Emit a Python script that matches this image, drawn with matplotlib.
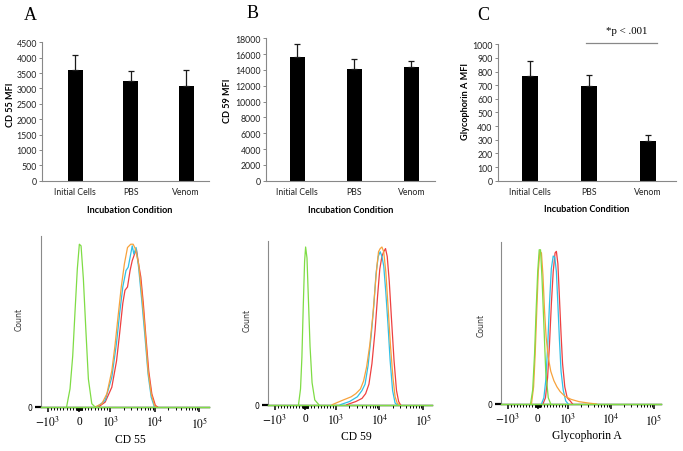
import numpy as np
import matplotlib
matplotlib.use("Agg")
import matplotlib.pyplot as plt

plt.rcParams['mathtext.fontset'] = 'stix'

# ---- bar chart data (MFI, mean + upper SD) ----
conditions = ["Initial Cells", "PBS", "Venom"]
cd55_mfi = [3610, 3250, 3085]
cd55_err = [470, 320, 510]
cd59_mfi = [15680, 14160, 14340]
cd59_err = [1560, 1230, 830]
gpa_mfi = [770, 692, 289]
gpa_err = [105, 83, 44]
sig_label = "*p < .001"

# ---- histogram traces: [fluorescence, % of max] ----
cd55_green = [[-400, 0], [-290, 11], [-203, 31], [-129, 58], [-55, 84], [10, 99], [65, 98],
              [139, 78], [216, 48], [300, 17], [409, 2], [516, 0]]
cd55_orange = [[516, 0], [732, 2], [893, 8], [1087, 22], [1277, 37], [1502, 55], [1774, 73],
               [2084, 87], [2449, 97], [2895, 99], [3289, 99], [3698, 96], [4345, 87],
               [5112, 69], [6039, 47], [7096, 22], [8340, 8], [9860, 1], [10660, 0]]
cd55_blue = [[570, 0], [839, 4], [1087, 18], [1388, 39], [1633, 57], [1919, 73], [2266, 83],
             [2537, 85], [2797, 91], [3127, 98], [3397, 93], [3809, 97], [4345, 85],
             [5112, 65], [6039, 43], [7096, 20], [8340, 6], [9860, 0]]
cd55_red = [[623, 0], [839, 3], [1087, 12], [1388, 28], [1633, 45], [1919, 63], [2150, 71],
            [2449, 73], [2797, 83], [3127, 89], [3526, 93], [3880, 96], [4345, 87], [4880, 79],
            [5550, 63], [6330, 43], [7340, 22], [8620, 8], [10350, 1], [11630, 0]]

cd59_green = [[-222, 0], [-156, 10], [-111, 30], [-67, 62], [-22, 91], [11, 100], [56, 93],
              [100, 68], [156, 37], [222, 14], [311, 3], [444, 0]]
cd59_orange = [[880, 0], [1000, 1], [1484, 3], [2245, 5], [2870, 7], [3670, 10], [4320, 15],
               [5080, 24], [6010, 38], [7070, 57], [7930, 74], [8760, 88], [9520, 97],
               [10390, 99], [11380, 100], [12520, 97], [14010, 84], [15670, 63], [17820, 38],
               [20400, 17], [22830, 5], [25530, 1], [28530, 0]]
cd59_blue = [[1260, 0], [2060, 2], [3110, 5], [3980, 9], [4680, 13], [5500, 25], [6470, 44],
             [7430, 63], [8330, 83], [9380, 94], [10390, 97], [11380, 94], [12520, 88],
             [14010, 71], [15670, 51], [17560, 28], [20000, 9], [22830, 1], [25530, 0]]
cd59_red = [[1780, 0], [2870, 2], [3980, 4], [4820, 7], [5740, 13], [6720, 26], [7930, 47],
            [9060, 69], [10170, 86], [11380, 94], [12520, 97], [13770, 99], [15060, 94],
            [16790, 78], [18800, 55], [21580, 28], [24570, 9], [27530, 2], [30250, 0]]

gpa_green = [[-238, 0], [-167, 9], [-105, 32], [-53, 60], [0, 85], [50, 99], [93, 99],
             [142, 81], [204, 51], [266, 21], [350, 4], [433, 0]]
gpa_orange = [[-207, 0], [-136, 11], [-84, 32], [-31, 60], [19, 85], [71, 98], [124, 97],
              [173, 83], [226, 60], [279, 43], [350, 30], [433, 21], [536, 15], [638, 11],
              [743, 8], [898, 5], [1184, 3], [1820, 1.5], [3035, 0.6], [4640, 0]]
gpa_blue = [[124, 0], [204, 4], [266, 15], [328, 36], [390, 64], [452, 87], [514, 95],
            [567, 94], [619, 85], [669, 64], [721, 41], [774, 21], [845, 9], [929, 2], [1015, 0]]
gpa_red = [[173, 0], [257, 4], [328, 17], [390, 38], [452, 64], [514, 85], [576, 97],
           [619, 98], [669, 90], [721, 68], [774, 45], [824, 26], [898, 11], [978, 4],
           [1130, 2], [1290, 0]]

hist_ticks = [-1000, 0, 1000, 10000, 100000]
hist_ticklabels = [r"$-10^3$", "0", r"$10^3$", r"$10^4$", r"$10^5$"]

GREEN = "#7fdc45"
ORANGE = "#f7a23c"
BLUE = "#2fc0e6"
RED = "#ee4040"

W, H = 683, 452
fig = plt.figure(figsize=(W / 100, H / 100), dpi=100)


def px_axes(left, top, right, bottom):
    return fig.add_axes([left / W, 1 - bottom / H, (right - left) / W, (bottom - top) / H])


SANS = "Lato"
SERIF = "Liberation Serif"


def bar_panel(ax, values, errs, ymax, ystep, ylabel, xlim, ylab_x, ylab_y, xlab_x):
    x = np.arange(len(conditions))
    ax.bar(x, values, width=0.27, color="black", zorder=2)
    ax.errorbar(x, values, yerr=[np.zeros(len(errs)), errs], fmt="none", ecolor="#1a1a1a",
                elinewidth=0.9, capsize=2, capthick=0.9, zorder=3)
    ax.set_xlim(*xlim)
    ax.set_ylim(0, ymax)
    ax.set_yticks(np.arange(0, ymax + ystep, ystep))
    ax.set_xticks(x)
    ax.set_xticklabels(conditions, fontfamily=SANS, fontsize=6.3, color="#222222")
    for lab in ax.get_yticklabels():
        lab.set_fontfamily(SANS)
        lab.set_fontsize(6.3)
        lab.set_color("#222222")
    ax.tick_params(axis="x", length=0, pad=4.5)
    ax.tick_params(axis="y", length=2.2, width=0.7, color="#888888", pad=1.5)
    for s in ["top", "right"]:
        ax.spines[s].set_visible(False)
    for s in ["left", "bottom"]:
        ax.spines[s].set_color("#888888")
        ax.spines[s].set_linewidth(0.8)
    ax.set_ylabel(ylabel, fontfamily=SANS, fontweight="bold", fontsize=6.6, va="center")
    ax.yaxis.set_label_coords(ylab_x, ylab_y)
    ax.set_xlabel("Incubation Condition", fontfamily=SANS, fontweight="bold", fontsize=6.6,
                  va="center")
    ax.xaxis.set_label_coords(xlab_x, -0.205)


def hist_panel(ax, curves, xlim, xlabel, xlab_x, count_x, count_y):
    for pts, col in curves:
        arr = np.array(pts, dtype=float)
        ax.plot(arr[:, 0], arr[:, 1], color=col, lw=0.9, clip_on=False, zorder=3)
    ax.axhline(0, color=GREEN, lw=1.0, zorder=4, clip_on=False)
    ax.set_xscale("symlog", linthresh=1000, linscale=0.63)
    ax.set_xlim(*xlim)
    ax.set_ylim(0, 104)
    ax.set_xticks(hist_ticks)
    ax.set_xticklabels(hist_ticklabels, fontfamily=SERIF, fontsize=8.3)
    small = np.concatenate([np.arange(10, 100, 10), np.arange(100, 1000, 100)])
    logs = np.concatenate([1000 * np.arange(2, 10), 10000 * np.arange(2, 10)])
    minor = np.concatenate([-small, small, logs])
    ax.set_xticks(minor, minor=True)
    ax.tick_params(axis="x", which="major", length=3.5, width=1.1, color="black", pad=2)
    ax.tick_params(axis="x", which="minor", length=2, width=0.7, color="black")
    ax.set_yticks([0])
    ax.set_yticklabels(["0"], fontfamily="DejaVu Sans", fontsize=5.5)
    ax.tick_params(axis="y", length=4, width=1.6, color="black", pad=2)
    for s in ["top", "right"]:
        ax.spines[s].set_visible(False)
    ax.spines["left"].set_color("#8a8a8a")
    ax.spines["left"].set_linewidth(0.8)
    ax.spines["bottom"].set_color("black")
    ax.spines["bottom"].set_linewidth(1.0)
    ax.set_xlabel(xlabel, fontfamily=SERIF, fontsize=8.4, va="center")
    ax.xaxis.set_label_coords(xlab_x, -0.19)
    ax.set_ylabel("Count", fontfamily="DejaVu Sans", fontsize=5.6, color="#333333", va="center")
    ax.yaxis.set_label_coords(count_x, count_y)


# ---- top row: bar charts ----
axA = px_axes(42, 43.3, 209, 181.7)
bar_panel(axA, cd55_mfi, cd55_err, 4500, 500, "CD 55 MFI", (-0.595, 2.41), -0.19, 0.555, 0.527)

axB = px_axes(266.3, 39.3, 434.7, 181.7)
bar_panel(axB, cd59_mfi, cd59_err, 18000, 2000, "CD 59 MFI", (-0.545, 2.41), -0.228, 0.57, 0.503)

axC = px_axes(497.7, 45.3, 676, 181.7)
bar_panel(axC, gpa_mfi, gpa_err, 1000, 100, "Glycophorin A MFI", (-0.55, 2.48), -0.183, 0.587, 0.499)
axC.plot([0.95, 2.16], [1012, 1012], color="#888888", lw=0.9, clip_on=False)
axC.text(1.65, 1100, sig_label, ha="center", va="center", fontfamily=SERIF, fontsize=7.8)

# ---- bottom row: flow histograms ----
axD = px_axes(40.7, 237, 209, 408)
hist_panel(axD, [(cd55_red, RED), (cd55_blue, BLUE), (cd55_orange, ORANGE), (cd55_green, GREEN)],
           (-1450, 1.66e5), "CD 55", 0.532, -0.129, 0.515)

axE = px_axes(267.7, 241.7, 432, 405.7)
hist_panel(axE, [(cd59_red, RED), (cd59_blue, BLUE), (cd59_orange, ORANGE), (cd59_green, GREEN)],
           (-1450, 1.6e5), "CD 59", 0.54, -0.126, 0.52)

axF = px_axes(501, 243, 660.7, 405)
hist_panel(axF, [(gpa_red, RED), (gpa_blue, BLUE), (gpa_orange, ORANGE), (gpa_green, GREEN)],
           (-1420, 1.43e5), "Glycophorin A", 0.536, -0.127, 0.49)

# panel letters
for lx, ly, letter in [(30, 15, "A"), (252.7, 14, "B"), (483.3, 15, "C")]:
    fig.text(lx / W, 1 - ly / H, letter, ha="center", va="center", fontfamily=SERIF, fontsize=13)

fig.savefig("out.png", dpi=100)
